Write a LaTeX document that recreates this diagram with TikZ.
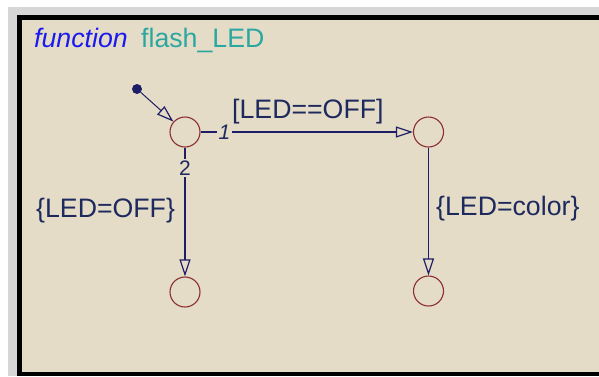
\documentclass[tikz,border=0pt]{standalone}
\usepackage{fontspec}
\setmainfont{Liberation Sans}
\usetikzlibrary{arrows.meta}
\definecolor{beige}{HTML}{E5DCC8}
\definecolor{navy}{HTML}{1E1E66}
\definecolor{txtnavy}{HTML}{1E2A5E}
\definecolor{stred}{HTML}{8B2E2E}
\definecolor{kwblue}{HTML}{1A1AEE}
\definecolor{teal2}{HTML}{2AA8A0}
\definecolor{framegray}{HTML}{D6D6D6}
\begin{document}
\begin{tikzpicture}[x=1pt,y=-1pt,
  state/.style={circle,draw=stred,line width=1.1pt,minimum size=30pt,inner sep=0pt},
  trans/.style={draw=navy,line width=1.3pt,-{Triangle[open,length=17pt,width=11pt,line width=1.2pt]}},
  big/.style={inner sep=0pt,anchor=base west,text=txtnavy,font=\fontsize{26.7}{30}\selectfont},
  num/.style={inner sep=1.5pt,fill=beige,text=txtnavy,font=\fontsize{21}{24}\selectfont}]
\useasboundingbox (0,0) rectangle (599,376);
\fill[white] (0,0) rectangle (599,376);
\fill[framegray] (8,7) rectangle (599,15);
\fill[framegray] (8,7) rectangle (17,376);
\fill[beige] (17,15) rectangle (599,376);
\fill[black] (17,15) rectangle (22,376);
\fill[black] (17,15) rectangle (599,20);
\fill[black] (17,372) rectangle (599,376);
% title
\node[big,text=kwblue,font=\fontsize{26.7}{30}\selectfont\itshape] (kw) at (34,47) {function};
\node[big,text=teal2] (name) at (141,47) {flash\_LED};
% states
\node[state] (s0) at (185,132) {};
\node[state] (s1) at (428.5,132) {};
\node[state] (s2) at (185,292) {};
\node[state] (s3) at (428.5,291) {};
% default transition
\node[circle,fill=navy,inner sep=0pt,minimum size=10pt] (d) at (137,89) {};
\draw[trans,line width=1pt] (d) -- (s0);
% transitions
\draw[trans] (s0) -- node[num,pos=0.112,font=\fontsize{21}{24}\selectfont\itshape] (n1) {1} (s1);
\draw[trans] (s0) -- node[num,pos=0.158] (n2) {2} (s2);
\draw[trans] (s1) -- (s3);
% labels
\node[big] (l1) at (232,118) {[LED==OFF]};
\node[big] (l2) at (36,217) {\{LED=OFF\}};
\node[big] (l3) at (436,215) {\{LED=color\}};
\end{tikzpicture}
\end{document}
